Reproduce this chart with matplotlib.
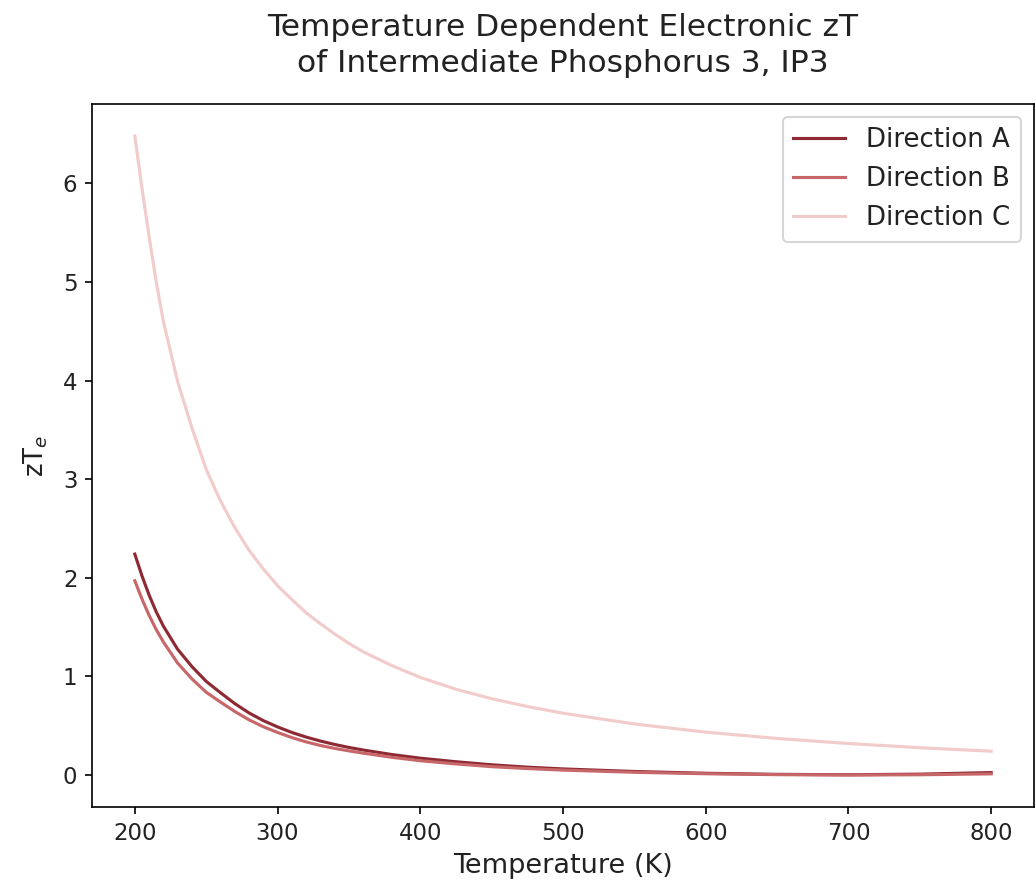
import matplotlib
matplotlib.use("Agg")
import matplotlib.pyplot as plt

# Electronic zT of intermediate phosphorus 3 (IP3) along three directions
temperature = [200, 205, 210, 215, 220, 230, 240, 250, 260, 270, 280, 290, 300,
               310, 320, 330, 340, 350, 360, 380, 400, 425, 450, 475, 500,
               550, 600, 650, 700, 750, 800]
zt_direction_a = [2.24, 2.02, 1.825, 1.655, 1.51, 1.275, 1.10, 0.95, 0.835, 0.725, 0.63, 0.552, 0.488,
                  0.432, 0.385, 0.345, 0.31, 0.28, 0.254, 0.208, 0.171, 0.135, 0.104, 0.08, 0.062,
                  0.036, 0.018, 0.007, 0.003, 0.009, 0.025]
zt_direction_b = [1.97, 1.785, 1.62, 1.475, 1.35, 1.135, 0.975, 0.84, 0.74, 0.645, 0.56, 0.49, 0.432,
                  0.38, 0.336, 0.30, 0.27, 0.245, 0.222, 0.18, 0.145, 0.113, 0.085, 0.066, 0.05,
                  0.028, 0.013, 0.004, 0.0, 0.003, 0.012]
zt_direction_c = [6.48, 5.95, 5.46, 5.0, 4.60, 3.99, 3.52, 3.10, 2.78, 2.51, 2.28, 2.09, 1.92,
                  1.78, 1.645, 1.535, 1.43, 1.335, 1.25, 1.11, 0.99, 0.87, 0.774, 0.695, 0.627,
                  0.518, 0.435, 0.371, 0.32, 0.277, 0.242]

series_labels = ["Direction A", "Direction B", "Direction C"]
series_colors = ["#8e2a33", "#c8676a", "#f2cbcb"]

W, H, DPI = 1036, 886, 150
fig = plt.figure(figsize=(W / DPI, H / DPI), dpi=DPI)
ax = fig.add_axes([92 / W, 1 - 807 / H, (1034 - 92) / W, (807 - 104) / H])

for values, label, color in zip([zt_direction_a, zt_direction_b, zt_direction_c],
                                series_labels, series_colors):
    ax.plot(temperature, values, color=color, lw=1.5, label=label)

ax.set_title("Temperature Dependent Electronic zT\nof Intermediate Phosphorus 3, IP3",
             fontsize=15, pad=15.5, linespacing=1.27, color="#222222")
ax.set_xlabel("Temperature (K)", fontsize=13, color="#222222")
ax.set_ylabel("zT$_e$", fontsize=12.5, labelpad=6, color="#222222")
ax.tick_params(labelsize=11, labelcolor="#222222")
ax.legend(loc="upper right", fontsize=12.5, labelcolor="#222222")

fig.savefig("out.png", dpi=DPI)
